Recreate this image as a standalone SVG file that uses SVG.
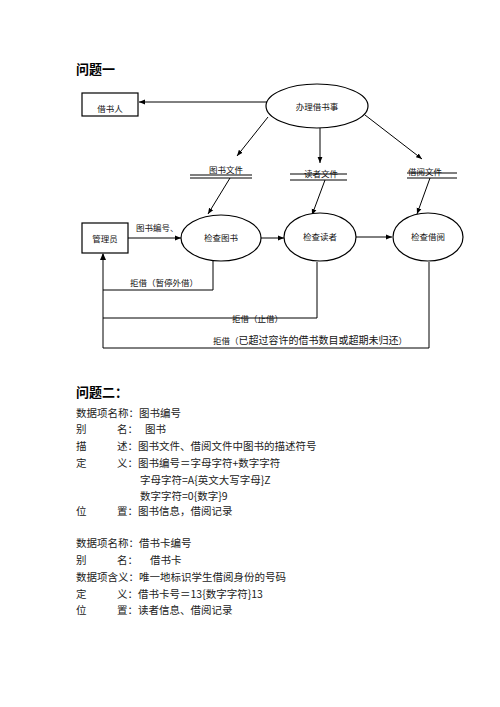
<svg xmlns="http://www.w3.org/2000/svg" width="500" height="707" viewBox="0 0 500 707">
<defs>
<marker id="ah" viewBox="0 0 10 10" refX="10" refY="5" markerWidth="6" markerHeight="6" orient="auto" markerUnits="userSpaceOnUse">
<path d="M0,1 L10,5 L0,9 z" fill="#000"/>
</marker>
<style>
.ln{stroke:#000;stroke-width:1;fill:none}
.nd{stroke:#000;stroke-width:1.2;fill:#fff}
.t{font-family:"Noto Sans CJK SC","Liberation Sans",sans-serif;font-size:8.5px;fill:#111}
.h{font-family:"Noto Sans CJK SC","Liberation Sans",sans-serif;font-size:13px;font-weight:bold;fill:#000}
.b{font-family:"Noto Sans CJK SC","Liberation Serif",serif;font-size:10.5px;fill:#222}
</style>
</defs>
<rect width="500" height="707" fill="#fff"/>
<text class="h" x="76" y="74">问题一</text>

<g id="connectors">
<line class="ln" x1="267" y1="102" x2="139" y2="102" marker-end="url(#ah)"/>
<line class="ln" x1="268" y1="117" x2="237" y2="156" marker-end="url(#ah)"/>
<line class="ln" x1="320" y1="128" x2="320" y2="163" marker-end="url(#ah)"/>
<line class="ln" x1="365" y1="115" x2="422" y2="159" marker-end="url(#ah)"/>
<line class="ln" x1="230" y1="178" x2="208" y2="214" marker-end="url(#ah)"/>
<line class="ln" x1="325" y1="180" x2="312" y2="215" marker-end="url(#ah)"/>
<line class="ln" x1="430" y1="178" x2="417" y2="214" marker-end="url(#ah)"/>
<line class="ln" x1="128" y1="238" x2="181" y2="238" marker-end="url(#ah)"/>
<line class="ln" x1="261" y1="238" x2="284" y2="238" marker-end="url(#ah)"/>
<line class="ln" x1="356" y1="237" x2="392" y2="237" marker-end="url(#ah)"/>
<polyline class="ln" points="213,261 213,290 103,290"/>
<polyline class="ln" points="317,262 317,318 103,318"/>
<polyline class="ln" points="429,262 429,348 103,348 103,254"/>
<path d="M100,260 L103,253 L106,260 z" fill="#000"/>
<text class="t" x="136" y="231">图书编号、</text>
<text class="t" x="130" y="286">拒借（暂停外借）</text>
<text class="t" x="232" y="322">拒借（止借）</text>
<text class="t" x="213" y="344">拒借（<tspan font-size="10">已超过容许的借书数目或超期未归还</tspan>）</text>
</g>

<g id="n-jieshuren">
<rect class="nd" x="82" y="93" width="56" height="23"/>
<text class="t" x="110" y="112" text-anchor="middle">借书人</text>
</g>
<g id="n-banli">
<ellipse class="nd" cx="317" cy="106" rx="51" ry="22"/>
<text class="t" x="317" y="110" text-anchor="middle">办理借书事</text>
</g>
<g id="f-tushu">
<text class="t" x="226" y="173" text-anchor="middle">图书文件</text>
<line class="ln" x1="190" y1="175" x2="252" y2="175" stroke="#555"/>
<line class="ln" x1="190" y1="178" x2="252" y2="178" stroke="#555"/>
</g>
<g id="f-duzhe">
<text class="t" x="321" y="177" text-anchor="middle">读者文件</text>
<line class="ln" x1="290" y1="174" x2="347" y2="174"/>
<line class="ln" x1="290" y1="180" x2="347" y2="180"/>
</g>
<g id="f-jieyue">
<text class="t" x="425" y="175" text-anchor="middle">借阅文件</text>
<line class="ln" x1="407" y1="173" x2="457" y2="173"/>
<line class="ln" x1="407" y1="178" x2="457" y2="178"/>
</g>
<g id="n-guanliyuan">
<rect class="nd" x="82" y="223" width="46" height="30"/>
<text class="t" x="105" y="242" text-anchor="middle">管理员</text>
</g>
<g id="n-tushu">
<ellipse class="nd" cx="221" cy="238" rx="40" ry="23"/>
<text class="t" x="221" y="241" text-anchor="middle">检查图书</text>
</g>
<g id="n-duzhe">
<ellipse class="nd" cx="320" cy="237" rx="36" ry="24"/>
<text class="t" x="320" y="240" text-anchor="middle">检查读者</text>
</g>
<g id="n-jieyue">
<ellipse class="nd" cx="428" cy="237" rx="35" ry="24"/>
<text class="t" x="428" y="240" text-anchor="middle">检查借阅</text>
</g>

<text class="h" x="76" y="397">问题二：</text>
<text class="b" x="76" y="417">数据项名称：图书编号</text>
<text class="b" x="76" y="433">别</text>
<text class="b" x="117" y="433">名：</text>
<text class="b" x="145" y="433">图书</text>
<text class="b" x="76" y="450">描</text>
<text class="b" x="117" y="450">述：图书文件、借阅文件中图书的描述符号</text>
<text class="b" x="76" y="467">定</text>
<text class="b" x="117" y="467">义：图书编号＝字母字符+数字字符</text>
<text class="b" x="140" y="484">字母字符=A{英文大写字母}Z</text>
<text class="b" x="140" y="500">数字字符=0{数字}9</text>
<text class="b" x="76" y="515">位</text>
<text class="b" x="117" y="515">置：图书信息，借阅记录</text>
<text class="b" x="76" y="547">数据项名称：借书卡编号</text>
<text class="b" x="76" y="564">别</text>
<text class="b" x="117" y="564">名：</text>
<text class="b" x="150" y="564">借书卡</text>
<text class="b" x="76" y="581">数据项含义：唯一地标识学生借阅身份的号码</text>
<text class="b" x="76" y="598">定</text>
<text class="b" x="117" y="598">义：借书卡号＝13{数字字符}13</text>
<text class="b" x="76" y="614">位</text>
<text class="b" x="117" y="614">置：读者信息、借阅记录</text>
</svg>
